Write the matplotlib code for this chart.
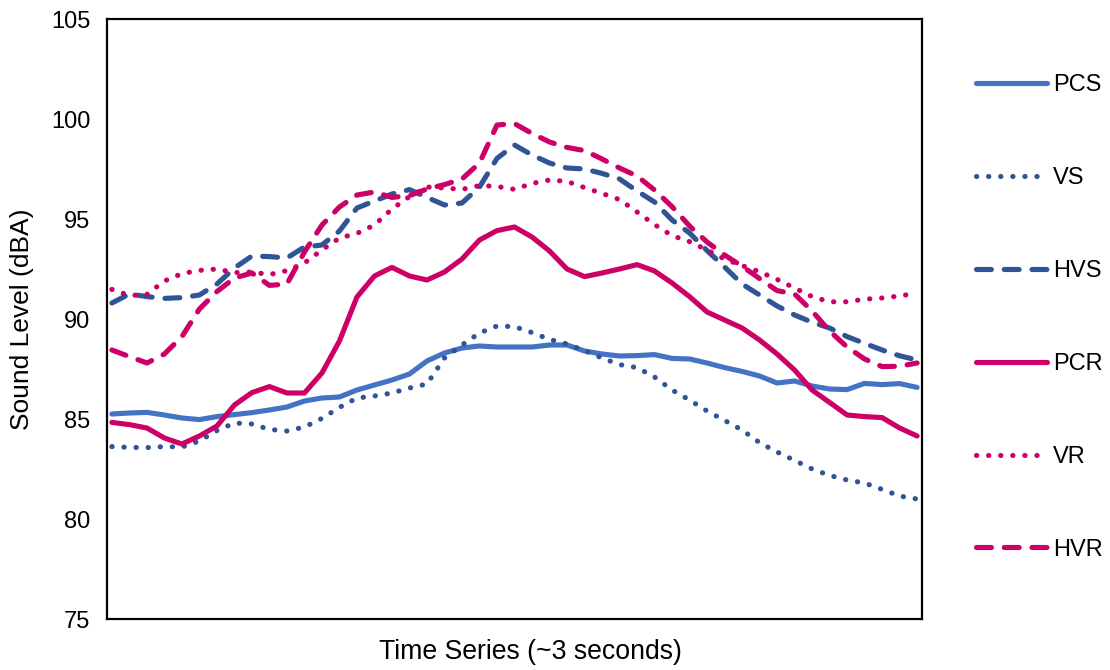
import matplotlib
matplotlib.use("Agg")
import matplotlib.pyplot as plt
import numpy as np

plt.rcParams["font.family"] = ["Liberation Sans", "DejaVu Sans"]

# Sound level readings (dBA) over ~3 s, 47 samples each
pcs = [85.25, 85.3, 85.33, 85.2, 85.05, 84.97, 85.12, 85.22, 85.32, 85.45,
       85.6, 85.9, 86.05, 86.1, 86.45, 86.7, 86.95, 87.25, 87.9, 88.3,
       88.55, 88.65, 88.6, 88.6, 88.6, 88.7, 88.7, 88.4, 88.25, 88.15,
       88.17, 88.22, 88.03, 88.0, 87.8, 87.57, 87.38, 87.15, 86.8, 86.9,
       86.65, 86.5, 86.47, 86.78, 86.72, 86.77, 86.58]
vs = [83.62, 83.58, 83.57, 83.62, 83.6, 83.9, 84.42, 84.8, 84.75, 84.48,
      84.4, 84.6, 85.03, 85.58, 86.05, 86.15, 86.3, 86.55, 86.75, 88.05,
      88.7, 89.3, 89.65, 89.62, 89.32, 88.98, 88.75, 88.42, 88.05, 87.72,
      87.57, 87.1, 86.45, 85.95, 85.4, 84.93, 84.45, 83.82, 83.35, 82.93,
      82.5, 82.18, 81.95, 81.8, 81.48, 81.15, 81.0]
hvs = [90.8, 91.25, 91.12, 91.03, 91.07, 91.2, 91.75, 92.55, 93.15, 93.12,
       93.05, 93.6, 93.7, 94.4, 95.55, 95.9, 96.25, 96.47, 96.08, 95.7,
       95.8, 96.6, 98.03, 98.7, 98.2, 97.8, 97.55, 97.5, 97.28, 97.0,
       96.4, 95.85, 94.95, 94.3, 93.42, 92.6, 91.75, 91.2, 90.65, 90.2,
       89.84, 89.55, 89.12, 88.78, 88.45, 88.16, 87.95]
pcr = [84.83, 84.72, 84.55, 84.05, 83.75, 84.15, 84.65, 85.7, 86.32, 86.62,
       86.3, 86.3, 87.3, 88.9, 91.1, 92.15, 92.58, 92.15, 91.95, 92.35,
       93.0, 93.95, 94.42, 94.6, 94.1, 93.4, 92.5, 92.12, 92.3, 92.5,
       92.72, 92.4, 91.8, 91.12, 90.35, 89.95, 89.55, 88.95, 88.25, 87.45,
       86.45, 85.83, 85.2, 85.12, 85.07, 84.55, 84.15]
vr = [91.48, 91.17, 91.23, 91.9, 92.27, 92.43, 92.5, 92.32, 92.35, 92.22,
      92.42, 92.8, 93.45, 94.05, 94.28, 94.7, 95.5, 96.12, 96.6, 96.55,
      96.48, 96.67, 96.63, 96.48, 96.78, 96.95, 96.88, 96.57, 96.28, 95.97,
      95.35, 94.72, 94.17, 93.87, 93.45, 93.0, 92.67, 92.36, 91.98, 91.55,
      91.12, 90.86, 90.86, 90.99, 91.05, 91.15, 91.3]
hvr = [88.45, 88.12, 87.8, 88.25, 89.12, 90.5, 91.37, 92.05, 92.3, 91.68,
       91.75, 93.35, 94.7, 95.6, 96.2, 96.35, 96.08, 96.17, 96.5, 96.72,
       97.0, 97.8, 99.7, 99.77, 99.28, 98.85, 98.58, 98.42, 98.0, 97.55,
       97.15, 96.45, 95.62, 94.65, 93.85, 93.2, 92.64, 92.02, 91.42, 91.25,
       90.4, 89.4, 88.6, 88.0, 87.62, 87.64, 87.8]

light_blue = "#4472C4"
dark_blue = "#2F5597"
magenta = "#CC0066"

solid = "-"
dotted = (0, (0.05, 2.3))
dashed = (0, (2.9, 2.5))

series = [
    ("PCS", pcs, light_blue, solid),
    ("VS", vs, dark_blue, dotted),
    ("HVS", hvs, dark_blue, dashed),
    ("PCR", pcr, magenta, solid),
    ("VR", vr, magenta, dotted),
    ("HVR", hvr, magenta, dashed),
]

fig = plt.figure(figsize=(11.1, 6.7), dpi=100)
ax = fig.add_axes([107 / 1110, 1 - 619 / 670, 815 / 1110, 600 / 670])

x = np.arange(len(pcs))
for name, vals, col, ls in series:
    ax.plot(x, vals, color=col, linestyle=ls, linewidth=3.7, label=name,
            solid_capstyle="round", dash_capstyle="round")

ax.set_xlim(-0.28, len(pcs) - 1 + 0.28)
ax.set_ylim(75, 105)
ax.set_yticks([75, 80, 85, 90, 95, 100, 105])
ax.set_xticks([])
ax.tick_params(axis="y", length=0, labelsize=17, pad=12)
for s in ax.spines.values():
    s.set_linewidth(1.6)
    s.set_color("black")

ax.set_ylabel("Sound Level (dBA)", fontsize=19, labelpad=12)
ax.set_xlabel("Time Series (~3 seconds)", fontsize=19.2)
ax.xaxis.set_label_coords(0.519, -0.034)

fig.legend(loc="upper left", bbox_to_anchor=(967 / 1110, 1 - 65 / 670),
           frameon=False, fontsize=17, handlelength=3.0, handletextpad=0.25,
           labelspacing=3.0, borderaxespad=0)

fig.savefig("out.png", dpi=100)
